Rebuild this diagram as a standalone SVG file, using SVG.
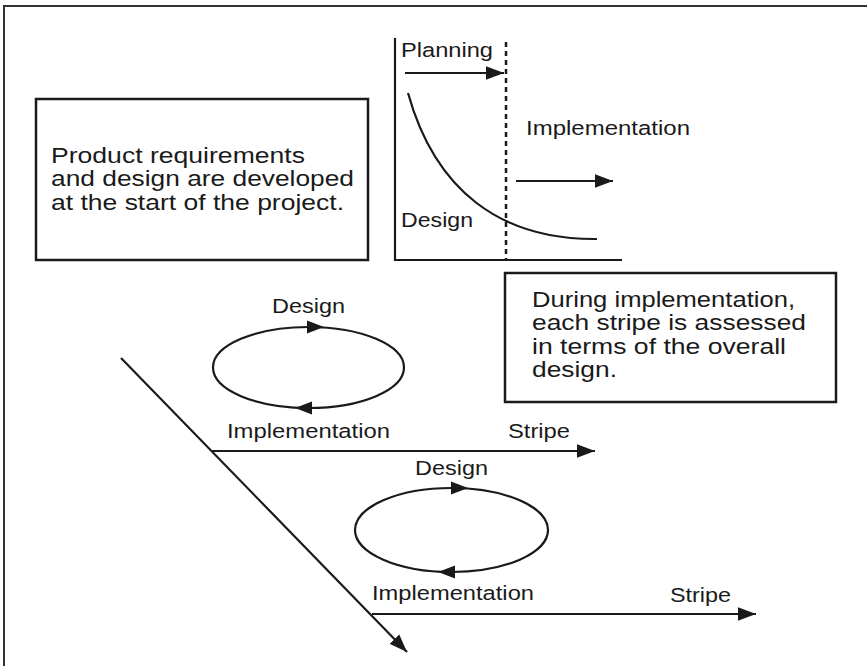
<svg xmlns="http://www.w3.org/2000/svg" width="867" height="666" viewBox="0 0 867 666">
<style>
text{font-family:"Liberation Sans",Arial,sans-serif;fill:#1a1a1a}
.box{fill:#fff;stroke:#1a1a1a;stroke-width:2.5}
.lbl{font-size:20.5px}
.bt{font-size:21.5px}
.ln{fill:none;stroke:#1a1a1a;stroke-width:2.2}
.head{fill:#1a1a1a}
</style>
<defs>
<marker id="arr" markerUnits="userSpaceOnUse" markerWidth="18" markerHeight="14" viewBox="0 0 16 12" refX="16" refY="6" orient="auto">
<path d="M0,0 L16,6 L0,12 z" fill="#1a1a1a"/>
</marker>
</defs>
<rect width="867" height="666" fill="#fff"/>
<g id="frame" fill="none" stroke="#333" stroke-width="2">
<path d="M4,666 V6 H867"/>
</g>
<g id="box-requirements">
<rect class="box" x="36" y="99" width="332" height="161"/>
<text class="bt" x="51" y="162.5" textLength="254" lengthAdjust="spacingAndGlyphs">Product requirements</text>
<text class="bt" x="51" y="186" textLength="303" lengthAdjust="spacingAndGlyphs">and design are developed</text>
<text class="bt" x="51" y="209.5" textLength="293" lengthAdjust="spacingAndGlyphs">at the start of the project.</text>
</g>
<g id="chart">
<path class="ln" d="M395,38 V260 H622"/>
<path d="M506,42 V260" fill="none" stroke="#1a1a1a" stroke-width="2.5" stroke-dasharray="5,4"/>
<path class="ln" d="M408,93 C435,190 500,240 597,239"/>
<text class="lbl" x="401" y="57" textLength="92" lengthAdjust="spacingAndGlyphs">Planning</text>
<text class="lbl" x="526" y="135" textLength="164" lengthAdjust="spacingAndGlyphs">Implementation</text>
<text class="lbl" x="401" y="227" textLength="72" lengthAdjust="spacingAndGlyphs">Design</text>
</g>
<g id="box-stripe">
<rect class="box" x="505" y="273" width="331" height="129"/>
<text class="bt" x="532" y="306.5" textLength="263" lengthAdjust="spacingAndGlyphs">During implementation,</text>
<text class="bt" x="532" y="330" textLength="274" lengthAdjust="spacingAndGlyphs">each stripe is assessed</text>
<text class="bt" x="532" y="353.5" textLength="254" lengthAdjust="spacingAndGlyphs">in terms of the overall</text>
<text class="bt" x="532" y="377" textLength="85" lengthAdjust="spacingAndGlyphs">design.</text>
</g>
<g id="cycle-1">
<ellipse class="ln" cx="308.5" cy="367.5" rx="95.5" ry="40.5" stroke-width="2.4"/>
<path class="head" d="M324,327 L307,320.5 L307,333.5 z"/>
<path class="head" d="M295,408 L312,401.5 L312,414.5 z"/>
<text class="lbl" x="272" y="313" textLength="73" lengthAdjust="spacingAndGlyphs">Design</text>
<text class="lbl" x="227" y="438" textLength="163" lengthAdjust="spacingAndGlyphs">Implementation</text>
<text class="lbl" x="508" y="438" textLength="62" lengthAdjust="spacingAndGlyphs">Stripe</text>
</g>
<g id="cycle-2">
<ellipse class="ln" cx="451.5" cy="530" rx="96.5" ry="42" stroke-width="2.4"/>
<path class="head" d="M468,488 L451,481.5 L451,494.5 z"/>
<path class="head" d="M438,572 L455,565.5 L455,578.5 z"/>
<text class="lbl" x="415" y="475" textLength="73" lengthAdjust="spacingAndGlyphs">Design</text>
<text class="lbl" x="372" y="600" textLength="162" lengthAdjust="spacingAndGlyphs">Implementation</text>
<text class="lbl" x="670" y="602" textLength="61" lengthAdjust="spacingAndGlyphs">Stripe</text>
</g>
<g id="connectors" class="ln">
<line x1="405" y1="73" x2="504" y2="73" marker-end="url(#arr)"/>
<line x1="516" y1="181" x2="613" y2="181" marker-end="url(#arr)"/>
<line x1="212" y1="451" x2="595" y2="451" marker-end="url(#arr)"/>
<line x1="372" y1="614" x2="756" y2="614" marker-end="url(#arr)"/>
<line x1="121" y1="358" x2="407" y2="652" marker-end="url(#arr)"/>
</g>
</svg>
